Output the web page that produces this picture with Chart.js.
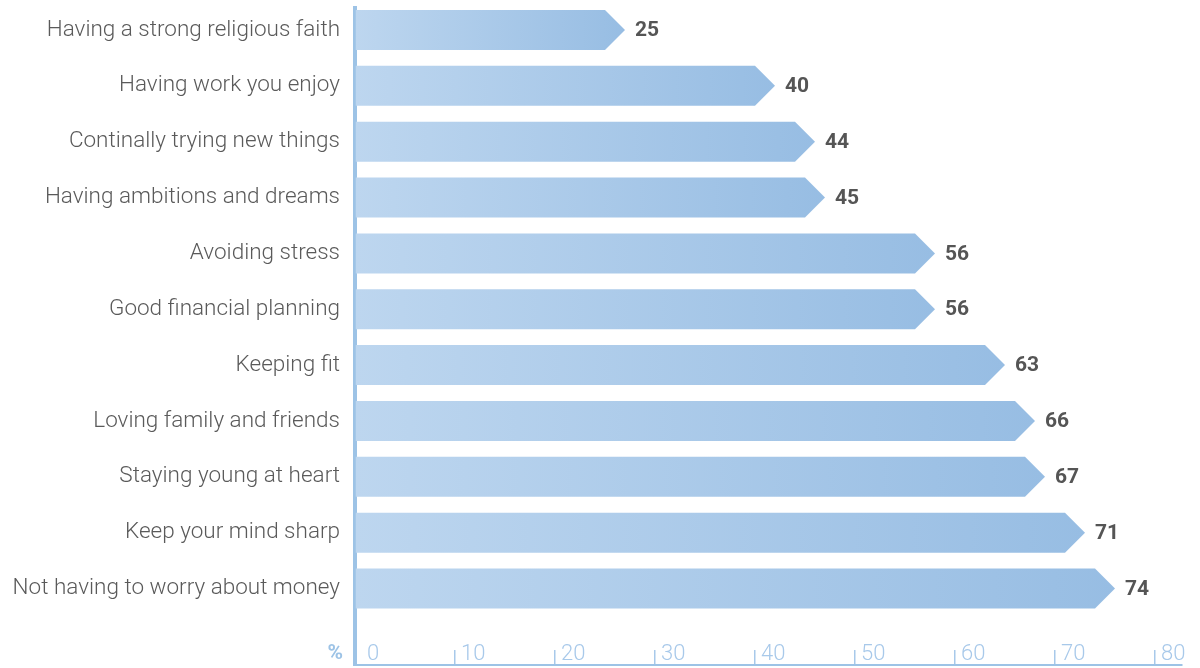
<!DOCTYPE html>
<html>
<head>
<meta charset="utf-8">
<script src="https://cdn.jsdelivr.net/npm/chart.js@4.4.1/dist/chart.umd.min.js"></script>
<style>
  html, body { margin: 0; padding: 0; background: #ffffff; }
  canvas { display: block; }
</style>
</head>
<body>
<canvas id="chart" width="1200" height="668"></canvas>
<script>
const categories = [
  "Having a strong religious faith",
  "Having work you enjoy",
  "Continally trying new things",
  "Having ambitions and dreams",
  "Avoiding stress",
  "Good financial planning",
  "Keeping fit",
  "Loving family and friends",
  "Staying young at heart",
  "Keep your mind sharp",
  "Not having to worry about money",
];
const values = [25, 40, 44, 45, 56, 56, 63, 66, 67, 71, 74];
const xTicks = [0, 10, 20, 30, 40, 50, 60, 70, 80];

const axisBlue = "#9dc3e6";
const tickBlue = "#a8c9ea";
const barLight = "#bdd6ef";
const barDark = "#97bde3";
const labelGrey = "#5a5a5a";
const valueGrey = "#555555";

// bars are drawn as arrows: flat body up to the value, then a pointed tip
const arrowBars = {
  id: "arrowBars",
  afterDatasetsDraw(chart) {
    const ctx = chart.ctx;
    const meta = chart.getDatasetMeta(0);
    ctx.save();
    meta.data.forEach((bar, i) => {
      const { x, y, base, height } = bar.getProps(["x", "y", "base", "height"], true);
      const half = height / 2;
      const tip = x + half;
      const grad = ctx.createLinearGradient(base, 0, tip, 0);
      grad.addColorStop(0, barLight);
      grad.addColorStop(1, barDark);
      ctx.fillStyle = grad;
      ctx.beginPath();
      ctx.moveTo(base, y - half);
      ctx.lineTo(x, y - half);
      ctx.lineTo(tip, y);
      ctx.lineTo(x, y + half);
      ctx.lineTo(base, y + half);
      ctx.closePath();
      ctx.fill();

      ctx.font = "bold 21px Roboto, 'Liberation Sans', sans-serif";
      ctx.fillStyle = valueGrey;
      ctx.textAlign = "left";
      ctx.textBaseline = "middle";
      ctx.fillText(values[i], tip + 10, y + 1);
    });
    ctx.restore();
  },
};

// value labels sit inside the plot, just above the bottom axis line,
// each one a little to the right of its tick mark; "%" marks the unit
const bottomLabels = {
  id: "bottomLabels",
  afterDraw(chart) {
    const ctx = chart.ctx;
    const area = chart.chartArea;
    const xScale = chart.scales.x;
    ctx.save();
    ctx.textBaseline = "middle";
    ctx.font = "300 22px Roboto, sans-serif";
    ctx.fillStyle = tickBlue;
    ctx.textAlign = "left";
    xScale.ticks.forEach((t) => {
      const px = xScale.getPixelForValue(t.value);
      ctx.fillText(String(t.value), px + (t.value === 0 ? 12 : 6), area.bottom - 11);
    });
    ctx.font = "bold 21px Roboto, 'Liberation Sans', sans-serif";
    ctx.fillStyle = axisBlue;
    ctx.textAlign = "right";
    ctx.fillText("%", area.left - 12, area.bottom - 11);
    ctx.restore();
  },
};

// keep the scales from reserving extra room around the plot
const noScalePadding = (scale) => {
  scale.paddingTop = 0;
  scale.paddingBottom = 0;
  scale.paddingLeft = 0;
  scale.paddingRight = 0;
};

new Chart(document.getElementById("chart"), {
  type: "bar",
  data: {
    datasets: [
      {
        data: values.map((v, i) => ({ x: v, y: i })),
        backgroundColor: "rgba(0,0,0,0)",
        borderWidth: 0,
        barThickness: 40,
      },
    ],
  },
  plugins: [arrowBars, bottomLabels],
  options: {
    indexAxis: "y",
    responsive: false,
    animation: false,
    events: [],
    layout: {
      autoPadding: false,
      padding: { top: 8, right: 18, bottom: 0, left: 0 },
    },
    plugins: {
      legend: { display: false },
      tooltip: { enabled: false },
    },
    scales: {
      x: {
        type: "linear",
        position: "bottom",
        bounds: "data",
        min: 0,
        max: 82.7,
        afterBuildTicks: (scale) => {
          scale.ticks = xTicks.map((v) => ({ value: v }));
        },
        afterFit: (scale) => {
          scale.height = 3;
          noScalePadding(scale);
        },
        border: { display: true, color: axisBlue, width: 2 },
        grid: {
          display: true,
          drawOnChartArea: false,
          drawTicks: true,
          tickLength: -15,
          color: tickBlue,
          lineWidth: 1.5,
        },
        ticks: { display: false },
      },
      y: {
        type: "linear",
        reverse: true,
        offset: false,
        bounds: "data",
        min: -0.394,
        max: 11.37,
        z: 1,
        afterBuildTicks: (scale) => {
          scale.ticks = categories.map((c, i) => ({ value: i }));
        },
        afterFit: (scale) => {
          scale.width = 355;
          noScalePadding(scale);
        },
        border: { display: true, color: axisBlue, width: 4 },
        grid: { display: false, drawTicks: false },
        ticks: {
          padding: 15,
          color: labelGrey,
          font: { family: "Roboto", size: 22.5, weight: 300 },
          callback: (value) => categories[value] || "",
        },
      },
    },
  },
});
</script>
</body>
</html>
